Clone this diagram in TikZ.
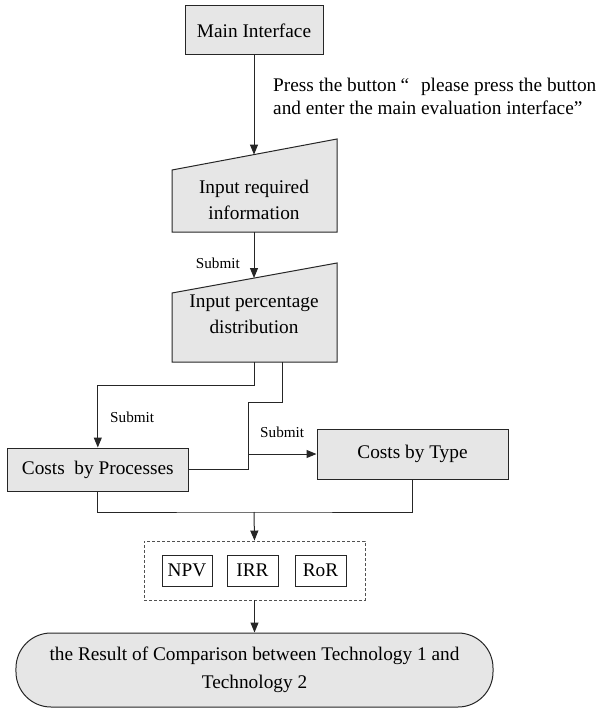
\documentclass[tikz,border=0pt]{standalone}
\usepackage{fontspec}
\setmainfont{Liberation Serif}
\usetikzlibrary{arrows.meta}
\definecolor{boxfill}{HTML}{E6E6E6}
\definecolor{linecol}{HTML}{262626}
\newcommand\mainsz{\fontsize{19.3bp}{26bp}\selectfont}
\newcommand\smallsz{\fontsize{15.2bp}{18bp}\selectfont}
\begin{document}
\begin{tikzpicture}[x=1bp,y=-1bp,
  line/.style={draw=linecol,line width=1bp},
  arr/.style={line,-{Triangle[length=10bp,width=8bp]}},
  procbox/.style={draw=linecol,line width=1bp,fill=boxfill,inner sep=0pt,font=\mainsz},
  metric/.style={draw=linecol,line width=0.9bp,inner sep=0pt,font=\mainsz,minimum height=31bp},
  lbl/.style={font=\smallsz,inner sep=0pt},
  note/.style={font=\mainsz,inner sep=0pt,anchor=base west}]
\useasboundingbox (0,0) rectangle (598,708);

% Main interface
\node[procbox,minimum width=138bp,minimum height=49bp] (main) at (254,30.5) {Main Interface};

\node[note] (press1) at (273,91.5)
  {Press the button\hspace{4bp}“\hspace{12bp}please press the button};
\node[note] (press2) at (273,114.5)
  {and enter the main evaluation interface”};

% Input required information (manual input)
\coordinate (a1) at (172,170);
\coordinate (a2) at (337,139);
\coordinate (a3) at (337,232);
\coordinate (a4) at (172,232);
\filldraw[line,fill=boxfill] (a1) -- (a2) -- (a3) -- (a4) -- cycle;
\node[font=\mainsz,align=center,inner sep=0pt] (in1) at (254,200) {Input required\\information};
\coordinate (in1top) at (254,154.6);
\coordinate (in1bot) at (254,232);

% Input percentage distribution (manual input)
\coordinate (b1) at (172,293);
\coordinate (b2) at (337,263);
\coordinate (b3) at (337,362);
\coordinate (b4) at (172,362);
\filldraw[line,fill=boxfill] (b1) -- (b2) -- (b3) -- (b4) -- cycle;
\node[font=\mainsz,align=center,inner sep=0pt] (in2) at (254,314.5) {Input percentage\\distribution};
\coordinate (in2top) at (254,278);
\coordinate (in2b1) at (254,362);
\coordinate (in2b2) at (282,362);

% Costs boxes
\node[procbox,minimum width=181bp,minimum height=43bp] (cbp) at (97.8,469.5) {Costs\ \ by Processes};
\node[procbox,minimum width=191bp,minimum height=50bp] (cbt) at (412.5,454) {Costs by Type};

% metrics group
\node[draw=linecol!80,dashed,dash pattern=on 3bp off 2bp,line width=0.9bp,
      minimum width=221bp,minimum height=59bp,inner sep=0pt] (grp) at (254.5,570.5) {};
\node[metric,minimum width=50bp] (npv) at (187,570.5) {NPV};
\node[metric,minimum width=51bp] (irr) at (252.5,570.5) {IRR};
\node[metric,minimum width=51bp] (ror) at (320.5,570.5) {RoR};

% terminator
\node[procbox,rounded corners=35bp,minimum width=477bp,minimum height=74bp,align=center,
      font=\fontsize{19.3bp}{28bp}\selectfont] (res) at (254.5,670)
  {the Result of Comparison between Technology 1 and\\Technology 2};

% connectors
\draw[arr] (main) -- (in1top);
\draw[arr] (in1bot) -- (in2top);
\node[lbl,anchor=east] (sub1) at (240,263) {Submit};

\draw[arr] (in2b1) -- ++(0,23) -| (cbp.north);
\node[lbl,anchor=west] (sub2) at (110,417) {Submit};

\coordinate (jtop) at (248,402);
\draw[line] (in2b2) |- (jtop) -- (jtop |- cbp.east) -- (cbp.east);
\draw[arr] (jtop |- cbt.west) -- (cbt.west);
\node[lbl,anchor=west] (sub3) at (260,432) {Submit};

\coordinate (mrg) at (254,512);
\draw[line] (cbp.south) |- (mrg) -| (cbt.south);
\draw[arr] (mrg) -- (grp.north);
\draw[arr] (grp.south) -- (res.north);
\end{tikzpicture}
\end{document}
